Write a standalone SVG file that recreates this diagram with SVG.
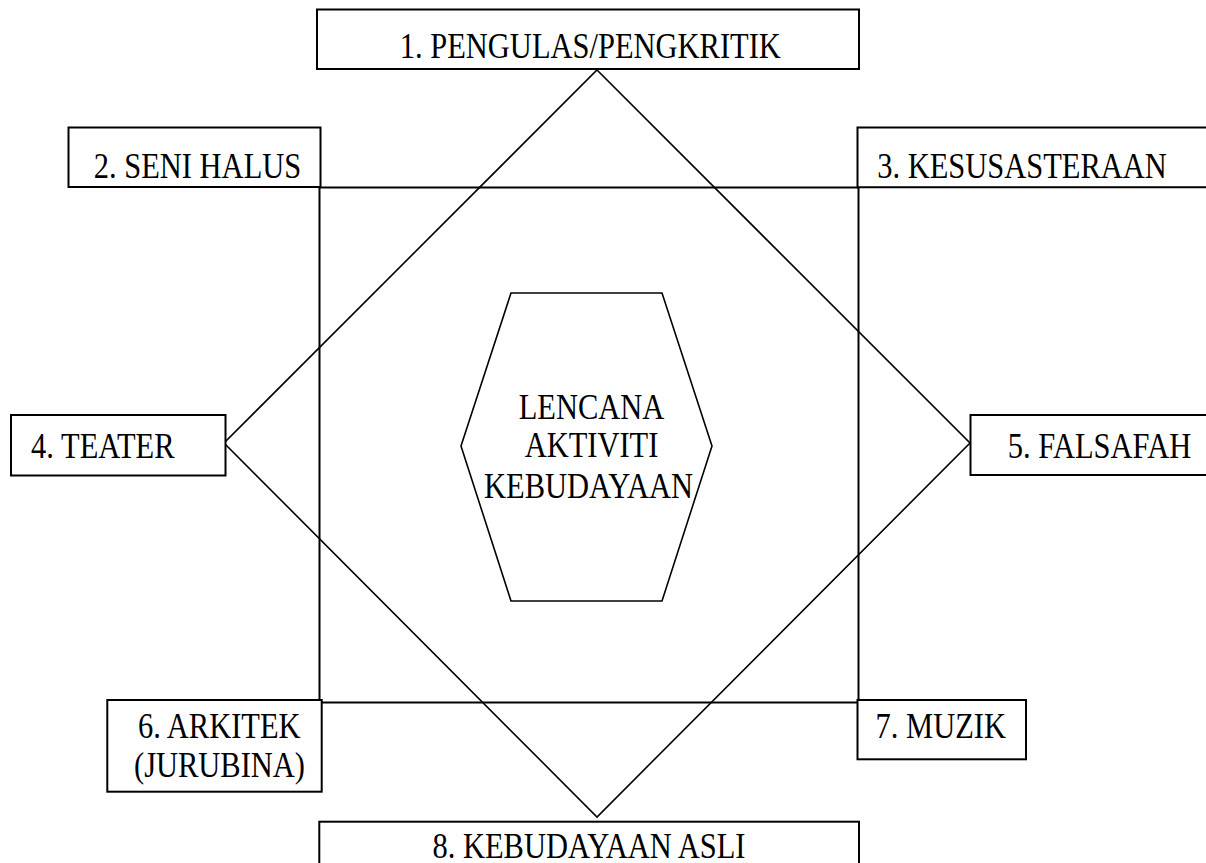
<svg xmlns="http://www.w3.org/2000/svg" width="1206" height="863" viewBox="0 0 1206 863">
<style>
.box{fill:#fff;stroke:#000;stroke-width:2}
.ln{fill:none;stroke:#000;stroke-width:1.6}
.t{font-family:"Liberation Serif","Times New Roman",serif;font-size:30.5px;fill:#000;text-anchor:middle}
</style>
<rect width="1206" height="863" fill="#fff"/>
<g id="frame">
<rect class="ln" x="319.5" y="187.5" width="539" height="515" style="stroke-width:2"/>
</g>
<g id="connectors">
<polygon class="ln" points="597,70 970,443 597,817 224,443"/>
</g>
<g id="center">
<polygon class="ln" points="511,293 662,293 712,446 662,601 511,601 461,446" style="fill:#fff"/>
<text class="t" transform="translate(591.5,419) scale(1,1.14)">LENCANA</text>
<text class="t" transform="translate(591.5,457) scale(1,1.14)">AKTIVITI</text>
<text class="t" transform="translate(588.5,497.5) scale(1,1.14)">KEBUDAYAAN</text>
</g>
<g id="n1">
<rect class="box" x="317" y="9.5" width="542" height="59.5"/>
<text class="t" transform="translate(590.3,58) scale(1,1.14)">1. PENGULAS/PENGKRITIK</text>
</g>
<g id="n2">
<rect class="box" x="68.5" y="127.5" width="252" height="59.5"/>
<text class="t" transform="translate(197.5,178) scale(1,1.14)">2. SENI HALUS</text>
</g>
<g id="n3">
<path class="box" d="M1210,127.5 H857.5 V187.2 H1210"/>
<text class="t" transform="translate(1022,177.5) scale(1,1.14)">3. KESUSASTERAAN</text>
</g>
<g id="n4">
<rect class="box" x="11" y="415" width="214.5" height="60.5"/>
<text class="t" transform="translate(102.8,457.7) scale(1,1.14)">4. TEATER</text>
</g>
<g id="n5">
<path class="box" d="M1210,415 H970.5 V475 H1210"/>
<text class="t" transform="translate(1099.5,458) scale(1,1.14)">5. FALSAFAH</text>
</g>
<g id="n6">
<rect class="box" x="107.3" y="700" width="214.4" height="91.7"/>
<text class="t" transform="translate(219.3,738.3) scale(1,1.14)">6. ARKITEK</text>
<text class="t" transform="translate(219.5,777.3) scale(1,1.14)">(JURUBINA)</text>
</g>
<g id="n7">
<rect class="box" x="857.5" y="700" width="168.5" height="59.3"/>
<text class="t" transform="translate(940.8,738.3) scale(1,1.14)">7. MUZIK</text>
</g>
<g id="n8">
<rect class="box" x="319.3" y="821.7" width="539.7" height="60"/>
<text class="t" transform="translate(589,858.3) scale(1,1.14)">8. KEBUDAYAAN ASLI</text>
</g>
</svg>
